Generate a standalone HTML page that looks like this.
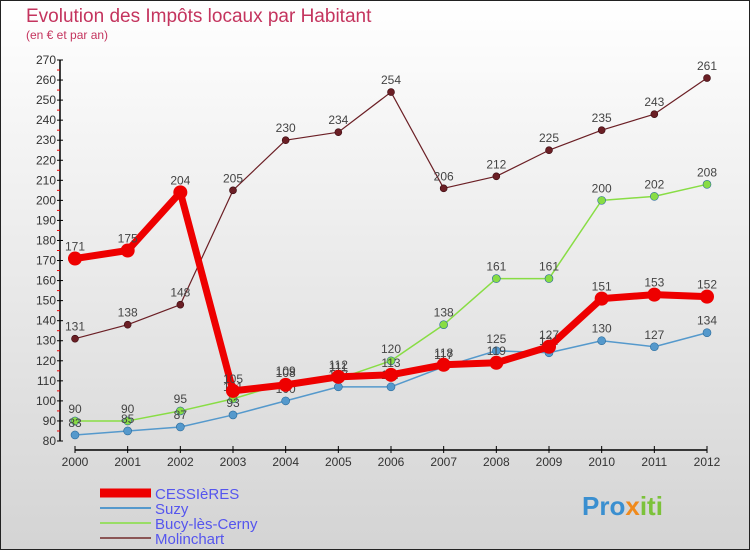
<!DOCTYPE html>
<html><head><meta charset="utf-8"><style>
body{margin:0;width:750px;height:550px;overflow:hidden;font-family:"Liberation Sans",sans-serif}
</style></head><body>
<svg id="c" width="750" height="550" xmlns="http://www.w3.org/2000/svg">
<defs><linearGradient id="bg" x1="0" y1="0" x2="0" y2="1"><stop offset="0" stop-color="#ffffff"/><stop offset="1" stop-color="#d4d4d4"/></linearGradient></defs>
<rect x="0.5" y="0.5" width="749" height="549" fill="url(#bg)" stroke="#222"/>
<text x="26" y="22" font-size="19" fill="#c4345e">Evolution des Impôts locaux par Habitant</text>
<text x="26" y="39" font-size="12" fill="#c4345e">(en € et par an)</text>
<g id="axes"></g><g id="series"></g><g id="legend"></g>
<text x="582" y="515" font-size="26" font-weight="bold" fill="#3a8fd0">Pro<tspan fill="#f08a1c">x</tspan><tspan fill="#7cc23a">iti</tspan></text>
</svg>
<script>
const years=[2000,2001,2002,2003,2004,2005,2006,2007,2008,2009,2010,2011,2012];
const cessieres=[171,175,204,105,108,112,113,118,119,127,151,153,152];
const suzy=[83,85,87,93,100,107,107,117,125,124,130,127,134];
const bucy=[90,90,95,101,109,111,120,138,161,161,200,202,208];
const molinchart=[131,138,148,205,230,234,254,206,212,225,235,243,261];
const yTicks=[80,90,100,110,120,130,140,150,160,170,180,190,200,210,220,230,240,250,260,270];
const NS="http://www.w3.org/2000/svg";
const X=i=>75+i*(632/12);
const Y=v=>441-(v-80)*(381/190);
function mk(t,a,p){const e=document.createElementNS(NS,t);for(const k in a)e.setAttribute(k,a[k]);p.appendChild(e);return e;}
const ax=document.getElementById('axes');
const yl=mk('line',{x1:60,y1:Y(270),x2:60,y2:Y(80),stroke:'#000','stroke-width':1.5},ax);


yTicks.forEach(v=>{
 mk('line',{x1:57,x2:63,y1:Y(v),y2:Y(v),stroke:'#000'},ax);
 if(v<270) mk('line',{x1:57,x2:60,y1:Y(v+5),y2:Y(v+5),stroke:'#e00'},ax);
 const t=mk('text',{x:56,y:Y(v)+4,'font-size':12,fill:'#333','text-anchor':'end'},ax);t.textContent=v;
 
 
});
const xl=mk('line',{x1:X(0),y1:450,x2:X(12),y2:450,stroke:'#000','stroke-width':1.5},ax);


years.forEach((yr,i)=>{
 mk('line',{x1:X(i),x2:X(i),y1:446,y2:453,stroke:'#000'},ax);
 const t=mk('text',{x:X(i),y:466,'font-size':12,fill:'#333','text-anchor':'middle'},ax);t.textContent=yr;
 
 
});
const sg=document.getElementById('series');
const series=[
 {d:molinchart,c:'#6b1f25',w:1.2,r:3.5,n:'molinchart'},
 {d:bucy,c:'#88dd44',w:1.5,r:4,n:'bucy'},
 {d:suzy,c:'#5599cc',w:1.5,r:4,n:'suzy'},
 {d:cessieres,c:'#ee0000',w:7,r:7,n:'cessieres'}];
series.forEach(s=>{
 const g=mk('g',{},sg);
 
 
 const p=mk('polyline',{points:s.d.map((v,i)=>X(i)+','+Y(v)).join(' '),fill:'none',stroke:s.c,'stroke-width':s.w,'stroke-linejoin':'round'},g);
 
 
 s.d.forEach((v,i)=>{
  const c=mk('circle',{cx:X(i),cy:Y(v),r:s.r,fill:s.c,stroke:s.n=='molinchart'?'#3a0a10':'#2a6a9a','stroke-width':s.n=='cessieres'?0:0.6},g);
  
  
  const t=mk('text',{x:X(i),y:Y(v)-8,'font-size':12,fill:'#444','text-anchor':'middle'},g);t.textContent=v;
  
  
 });
});
const lg=document.getElementById('legend');
const leg=[['CESSIèRES','#ee0000',9],['Suzy','#5599cc',2],['Bucy-lès-Cerny','#99dd66',2],['Molinchart','#8a5555',2]];
leg.forEach((l,i)=>{
 const y=493+i*15;
 const g=mk('g',{},lg);
 
 
 mk('line',{x1:100,x2:151,y1:y,y2:y,stroke:l[1],'stroke-width':l[2]},g);
 const t=mk('text',{x:155,y:y+6,'font-size':15,fill:'#5555ee'},g);t.textContent=l[0];
});
</script>
</body></html>
